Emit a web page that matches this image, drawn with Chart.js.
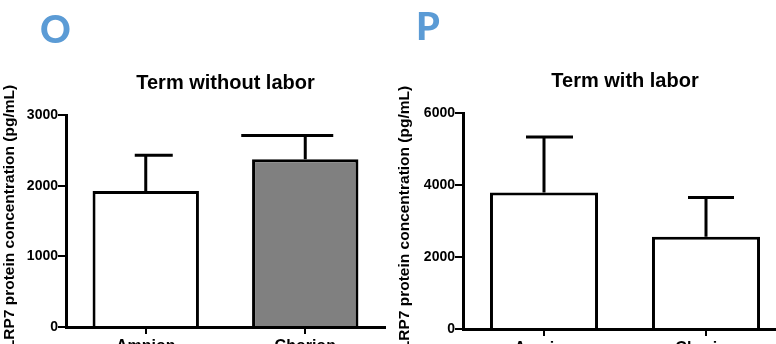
<!DOCTYPE html>
<html>
<head>
<meta charset="utf-8">
<script src="https://cdn.jsdelivr.net/npm/chart.js@4/dist/chart.umd.min.js"></script>
<style>
  body { margin: 0; background: #fff; }
  #wrap { position: relative; width: 776px; height: 344px; overflow: hidden; }
  .panel { position: absolute; top: 0; height: 344px; overflow: hidden; }
  .letter {
    position: absolute; font-family: Lato, "Open Sans", sans-serif; font-weight: 900;
    font-size: 38px; line-height: 1; color: #5b9bd5;
  }
</style>
</head>
<body>
<div id="wrap">
  <div class="panel" style="left:0;width:388px"><canvas id="chartO" width="388" height="380"></canvas></div>
  <div class="panel" style="left:388px;width:388px"><canvas id="chartP" width="400" height="380"></canvas></div>
  <div class="letter" style="left:40px;top:9px">O</div>
  <div class="letter" style="left:416px;top:6px">P</div>
</div>
<script>
/* LRP7 in amnion and chorion, term with / without labor */
const categories = ['Amnion', 'Chorion']
const withoutLaborMean = [1925, 2375]
const withoutLaborErr = [505, 335]
const withLaborMean = [3795, 2565]
const withLaborErr = [1540, 1090]
const withoutLaborTicks = [0, 1000, 2000, 3000]
const withLaborTicks = [0, 2000, 4000, 6000]
const yTitle = 'LRP7 protein concentration (pg/mL)'

const FONT = '"Liberation Sans", Arial, sans-serif'

// error bars drawn on top of the bars (upper whisker only)
const errorBars = {
  id: 'errorBars',
  afterDatasetsDraw(chart, args, opts) {
    const ctx = chart.ctx
    const yScale = chart.scales.y
    const meta = chart.getDatasetMeta(0)
    const values = chart.data.datasets[0].data
    ctx.save()
    ctx.strokeStyle = '#000'
    ctx.lineWidth = 3
    ctx.lineCap = 'butt'
    meta.data.forEach((bar, i) => {
      const top = yScale.getPixelForValue(values[i] + opts.errors[i])
      ctx.beginPath()
      ctx.moveTo(bar.x, bar.y)
      ctx.lineTo(bar.x, top)
      ctx.moveTo(bar.x - opts.capLeft[i], top)
      ctx.lineTo(bar.x + opts.capRight[i], top)
      ctx.stroke()
    })
    ctx.restore()
  }
}

// rotated y axis title, placed a little above the axis middle like the original
const yAxisTitle = {
  id: 'yAxisTitle',
  afterDraw(chart, args, opts) {
    const ctx = chart.ctx
    const area = chart.chartArea
    ctx.save()
    ctx.translate(opts.x, (area.top + area.bottom) / 2 + opts.shift)
    ctx.rotate(-Math.PI / 2)
    ctx.font = 'bold 15.5px ' + FONT
    ctx.fillStyle = '#000'
    ctx.textAlign = 'center'
    ctx.textBaseline = 'middle'
    ctx.fillText(opts.text, 0, 0)
    ctx.restore()
  }
}

function makeChart(id, title, means, errors, ticks, fills, cfg) {
  return new Chart(document.getElementById(id).getContext('2d'), {
    type: 'bar',
    data: {
      labels: categories,
      datasets: [{
        data: means,
        backgroundColor: fills,
        borderColor: '#000',
        borderWidth: 3,
        borderSkipped: 'bottom',
        barPercentage: 1,
        categoryPercentage: 0.667
      }]
    },
    options: {
      responsive: false,
      animation: false,
      layout: { padding: { left: 0, right: cfg.padRight, top: 0, bottom: 0 } },
      plugins: {
        legend: { display: false },
        tooltip: { enabled: false },
        title: {
          display: true,
          text: title,
          fullSize: false,
          color: '#000',
          font: { family: FONT, size: 20, weight: 'bold' },
          padding: { top: cfg.titleTop, bottom: cfg.titleBottom }
        },
        errorBars: { errors: errors, capLeft: cfg.capLeft, capRight: cfg.capRight },
        yAxisTitle: { text: yTitle, x: cfg.yTitleX, shift: cfg.yTitleShift }
      },
      scales: {
        x: {
          afterFit: (s) => { s.height = 380 - cfg.bottom },
          border: { display: true, color: '#000', width: 3 },
          grid: { display: true, drawOnChartArea: false, offset: false, color: '#000', lineWidth: 2, tickLength: 7 },
          ticks: { color: '#000', padding: 3, font: { family: FONT, size: 16, weight: 'bold' } }
        },
        y: {
          min: 0,
          max: ticks[ticks.length - 1],
          afterFit: (s) => { s.width = cfg.axisX },
          afterBuildTicks: (s) => { s.ticks = ticks.map(v => ({ value: v })) },
          border: { display: true, color: '#000', width: 3 },
          grid: { display: true, drawOnChartArea: false, color: '#000', lineWidth: 2, tickLength: 8 },
          ticks: {
            color: '#000', padding: 0,
            font: { family: FONT, size: 14, weight: 'bold' },
            callback: (v) => String(v)
          }
        }
      }
    },
    plugins: [errorBars, yAxisTitle]
  })
}

makeChart('chartO', 'Term without labor', withoutLaborMean, withoutLaborErr, withoutLaborTicks,
  ['#ffffff', '#808080'],
  { padRight: 3, titleTop: 71, titleBottom: 20, bottom: 327, axisX: 66,
    yTitleX: 10, yTitleShift: -4, capLeft: [11, 64], capRight: [27, 28] })

makeChart('chartP', 'Term with labor', withLaborMean, withLaborErr, withLaborTicks,
  ['#ffffff', '#ffffff'],
  { padRight: 1, titleTop: 69, titleBottom: 20, bottom: 329, axisX: 75,
    yTitleX: 17, yTitleShift: -3, capLeft: [18, 18], capRight: [29, 28] })
</script>
</body>
</html>
